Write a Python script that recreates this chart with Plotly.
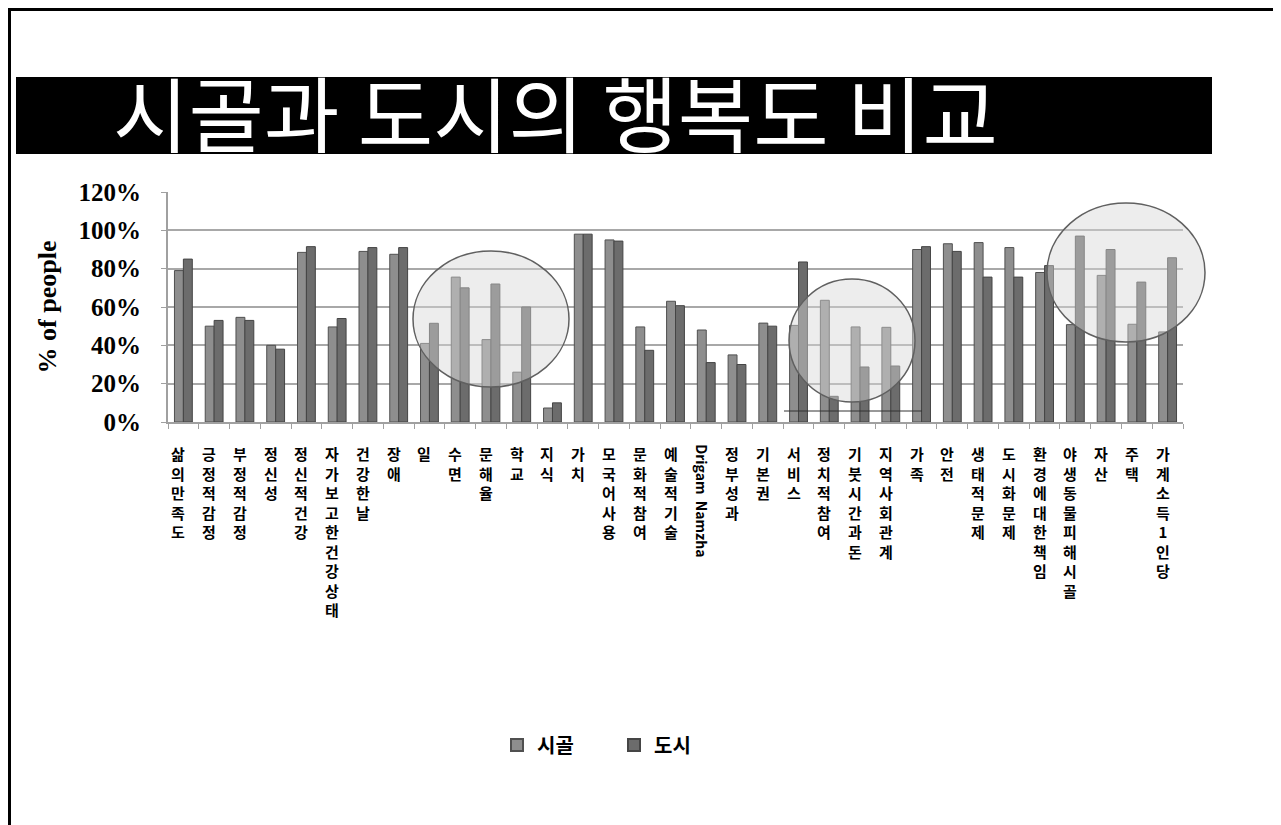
import plotly.graph_objects as go

categories = ["삶의 만족도", "긍정적 감정", "부정적 감정", "정신성", "정신적 건강",
              "자가 보고한 건강상태", "건강한 날", "장애", "일", "수면", "문해율", "학교",
              "지식", "가치", "모국어 사용", "문화적 참여", "예술적 기술", "Drigam Namzha",
              "정부 성과", "기본권", "서비스", "정치적 참여", "기붓시간과 돈", "지역사회 관계",
              "가족", "안전", "생태적 문제", "도시화 문제", "환경에 대한 책임",
              "야생동물 피해 시골", "자산", "주택", "가계 소득1 인당"]

rural = [0.79, 0.50, 0.546, 0.40, 0.885, 0.496, 0.89, 0.875, 0.41, 0.756, 0.43, 0.26,
         0.073, 0.98, 0.95, 0.496, 0.63, 0.48, 0.35, 0.516, 0.504, 0.635, 0.496, 0.494,
         0.90, 0.93, 0.936, 0.91, 0.78, 0.508, 0.765, 0.51, 0.47]
urban = [0.85, 0.53, 0.53, 0.38, 0.915, 0.54, 0.91, 0.91, 0.515, 0.70, 0.72, 0.60,
         0.10, 0.98, 0.944, 0.374, 0.607, 0.31, 0.30, 0.50, 0.835, 0.134, 0.287, 0.292,
         0.915, 0.89, 0.756, 0.756, 0.816, 0.97, 0.90, 0.73, 0.857]

series_names = ["시골", "도시"]
y_ticks = [0, 0.2, 0.4, 0.6, 0.8, 1.0, 1.2]
y_tick_labels = ["0%", "20%", "40%", "60%", "80%", "100%", "120%"]
title_text = "시골과 도시의 행복도 비교"
y_title = "% of people"

W, H = 1281, 825
OFF = 8  # page body margin
L, R, T, B = 168, 1183, 192, 422  # plot area in reference px


def px(x):
    return (x - L) / (R - L)


def py(y):
    return (B - y) / (B - T)


fig = go.Figure()
fig.add_trace(go.Bar(name=series_names[0], x=categories, y=rural,
                     marker=dict(color="#8e8e8e", line=dict(color="#505050", width=1))))
fig.add_trace(go.Bar(name=series_names[1], x=categories, y=urban,
                     marker=dict(color="#6c6c6c", line=dict(color="#454545", width=1))))

label_font = dict(family="Noto Sans CJK KR", size=15, color="black")
annotations = []
for c in categories:
    if c.isascii():
        annotations.append(dict(x=c, xref="x", y=0, yref="paper", yanchor="top",
                                xanchor="center", yshift=-20, xshift=-4,
                                text="<b>" + c.replace(" ", "&nbsp;&nbsp;") + "</b>",
                                textangle=90, showarrow=False,
                                font=dict(family="Noto Sans CJK KR", size=14, color="black")))
    else:
        txt = "<br>".join(ch for ch in c if ch != " ")
        annotations.append(dict(x=c, xref="x", y=0, yref="paper", yanchor="top",
                                xanchor="center", yshift=-19, xshift=-5,
                                text="<b>" + txt + "</b>", showarrow=False,
                                font=label_font, align="center"))

annotations.append(dict(x=px(555), xref="paper", y=py(110), yref="paper",
                        xanchor="center", yanchor="middle", text=title_text,
                        showarrow=False,
                        font=dict(family="Noto Sans CJK KR", size=82, color="white")))

shapes = [
    dict(type="rect", xref="paper", yref="paper", x0=px(9.5), x1=px(1277),
         y0=py(840), y1=py(9.5), line=dict(color="black", width=3), layer="below"),
    dict(type="rect", xref="paper", yref="paper", x0=px(16), x1=px(1212),
         y0=py(154), y1=py(77), fillcolor="black", line=dict(width=0), layer="above"),
    dict(type="circle", xref="paper", yref="paper", x0=px(413), x1=px(569),
         y0=py(387), y1=py(251), fillcolor="rgba(215,215,215,0.45)",
         line=dict(color="#606060", width=1.5), layer="above"),
    dict(type="circle", xref="paper", yref="paper", x0=px(789), x1=px(915),
         y0=py(402), y1=py(279), fillcolor="rgba(215,215,215,0.45)",
         line=dict(color="#606060", width=1.5), layer="above"),
    dict(type="circle", xref="paper", yref="paper", x0=px(1047), x1=px(1205),
         y0=py(342), y1=py(203), fillcolor="rgba(215,215,215,0.45)",
         line=dict(color="#606060", width=1.5), layer="above"),
    dict(type="line", xref="paper", yref="paper", x0=px(784), x1=px(922),
         y0=py(411), y1=py(411), line=dict(color="#333333", width=1), layer="above"),
]

fig.update_layout(
    width=W, height=H,
    margin=dict(l=L - OFF, r=W - (R - OFF), t=T - OFF, b=H - (B - OFF), autoexpand=False),
    paper_bgcolor="white", plot_bgcolor="white",
    barmode="group", bargap=0.42, bargroupgap=0,
    showlegend=True,
    legend=dict(orientation="h", x=px(497), y=py(745), xanchor="left", yanchor="middle",
                font=dict(family="Noto Sans CJK KR", size=20, color="black", weight="bold"),
                entrywidth=72, entrywidthmode="pixels", itemsizing="constant"),
    annotations=annotations,
    shapes=shapes,
    xaxis=dict(showticklabels=False, ticks="outside", ticklen=5, tickcolor="#a0a0a0",
               tickson="boundaries", showline=True, linecolor="#a0a0a0", linewidth=2,
               showgrid=False, range=[-0.5, len(categories) - 0.5]),
    yaxis=dict(range=[0, 1.2], tickvals=y_ticks, ticktext=y_tick_labels,
               ticks="outside", ticklen=5, tickcolor="#a0a0a0", ticklabelstandoff=15,
               showline=True, linecolor="#a0a0a0", linewidth=2,
               showgrid=True, gridcolor="#a8a8a8", gridwidth=2, zeroline=False,
               tickfont=dict(family="Liberation Serif", size=25, color="black", weight="bold"),
               title=dict(text=y_title, standoff=14,
                          font=dict(family="Liberation Serif", size=26, color="black",
                                    weight="bold"))),
)

fig.write_html("out.html")
